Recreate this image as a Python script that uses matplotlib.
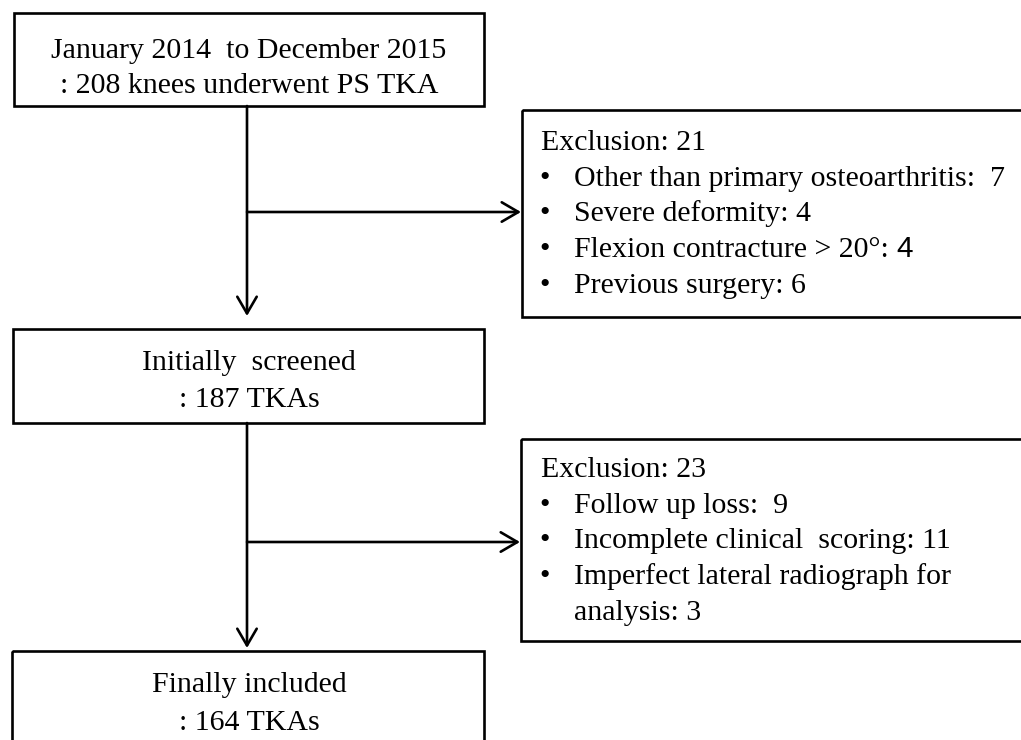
import matplotlib
matplotlib.use("Agg")
import matplotlib.pyplot as plt
from matplotlib.patches import Rectangle, FancyArrowPatch

# ---- content ----
box1_lines = ["January 2014  to December 2015", ": 208 knees underwent PS TKA"]
box3_lines = ["Initially  screened", ": 187 TKAs"]
box5_lines = ["Finally included", ": 164 TKAs"]
excl1_title = "Exclusion: 21"
excl1_items = ["Other than primary osteoarthritis:  7",
               "Severe deformity: 4",
               "Flexion contracture > 20°: ",
               "Previous surgery: 6"]
excl1_suffix = ["", "", "4", ""]
excl2_title = "Exclusion: 23"
excl2_items = ["Follow up loss:  9",
               "Incomplete clinical  scoring: 11",
               "Imperfect lateral radiograph for",
               "analysis: 3"]
excl2_suffix = ["", "", "", ""]
excl2_bullets = [True, True, True, False]

W, H = 1021, 740
fig = plt.figure(figsize=(W / 100, H / 100), dpi=100)
ax = fig.add_axes([0, 0, 1, 1])
ax.set_xlim(0, W)
ax.set_ylim(H, 0)
ax.axis("off")

FONT = "Liberation Serif"
SANS = "Liberation Sans"
FS = 21.5
LW = 1.9

def box(x0, y0, x1, y1):
    ax.add_patch(Rectangle((x0, y0), x1 - x0, y1 - y0, fill=False,
                           edgecolor="black", linewidth=LW, clip_on=True))

def arrow(p0, p1):
    ax.add_patch(FancyArrowPatch(p0, p1, arrowstyle="->,head_length=12,head_width=7",
                                 mutation_scale=1, color="black", linewidth=LW,
                                 shrinkA=0, shrinkB=0))

def centered(lines, cx, ys):
    for t, y in zip(lines, ys):
        ax.text(cx, y, t, ha="center", va="center", fontsize=FS, family=FONT)

# main boxes
box(14, 13, 484, 106)
centered(box1_lines, 249, [51, 86])
box(13, 329, 484, 423)
centered(box3_lines, 249, [363, 400])
box(12, 651, 484, 780)
centered(box5_lines, 249, [685, 723])

# exclusion boxes
pending = []
def excl_box(x0, y0, y1, title, items, suffix, bullets, base, dy):
    box(x0, y0, 1040, y1)
    ax.text(541, base, title, ha="left", va="baseline", fontsize=FS, family=FONT)
    for i, (t, s, b) in enumerate(zip(items, suffix, bullets)):
        y = base + dy * (i + 1)
        if b:
            ax.text(545, y, "•", ha="center", va="baseline", fontsize=FS, family=FONT)
        tx = ax.text(574, y, t, ha="left", va="baseline", fontsize=FS, family=FONT)
        if s:
            pending.append((tx, s, y))

excl_box(522, 110, 317, excl1_title, excl1_items, excl1_suffix, [True] * 4, 150, 35.7)
excl_box(521, 439, 641, excl2_title, excl2_items, excl2_suffix, excl2_bullets, 477, 35.7)

fig.canvas.draw()
r = fig.canvas.get_renderer()
inv = ax.transData.inverted()
for tx, s, y in pending:
    bb = tx.get_window_extent(r)
    xr = inv.transform((bb.x1, bb.y0))[0]
    ax.text(xr, y, s, ha="left", va="baseline", fontsize=FS, family=SANS)

# connectors
X = 247
arrow((X, 106), (X, 316))
arrow((X, 212), (521, 212))
arrow((X, 423), (X, 648))
arrow((X, 542), (520, 542))

fig.savefig("out.png", dpi=100, facecolor="white")
